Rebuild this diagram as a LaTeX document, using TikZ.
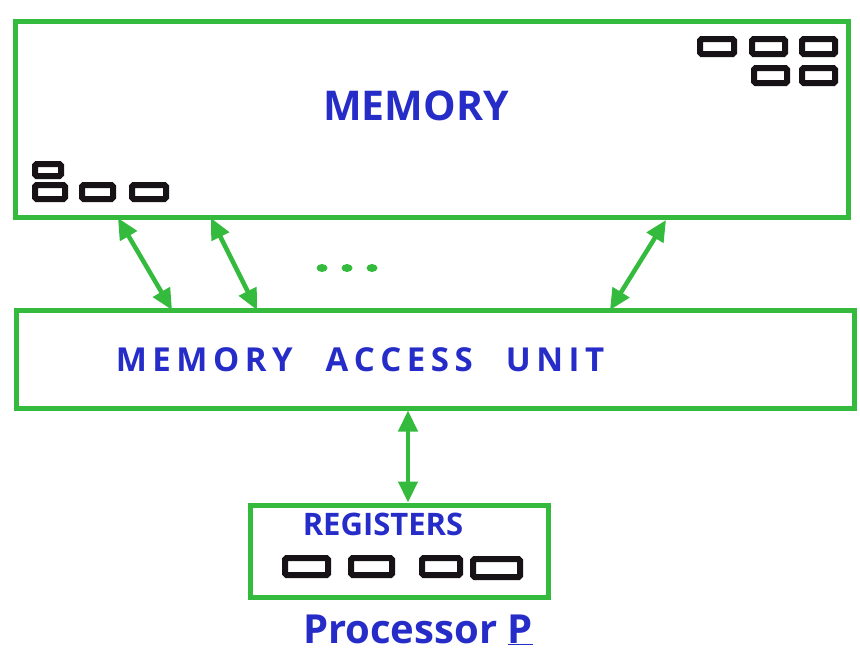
\documentclass[tikz,border=0pt]{standalone}
\usepackage{fontspec}
\setmainfont{Open Sans}
\usetikzlibrary{arrows.meta,calc,shapes.geometric}
\definecolor{pen}{RGB}{52,186,60}
\definecolor{ink}{RGB}{38,44,200}
\definecolor{cell}{RGB}{22,18,22}
\tikzset{
  unitbox/.style={draw=pen, line width=5pt, rectangle, inner sep=0pt},
  lettering/.style={text=ink, font=\bfseries},
  cellbox/.style={draw=cell, line width=6pt, rounded corners=1.5pt},
  link/.style={draw=pen, line width=4.5pt,
    {Triangle[length=21pt,width=19pt]}-{Triangle[length=21pt,width=19pt]}},
  dot/.style={fill=pen, ellipse, inner sep=0pt, minimum width=11pt, minimum height=8pt}
}
\begin{document}
\begin{tikzpicture}[x=1pt,y=-1pt]
\useasboundingbox (0,0) rectangle (860,656);
\fill[white] (0,0) rectangle (860,656);

% main memory
\node[unitbox, minimum width=833pt, minimum height=196pt] (mem) at (431.5,119) {};
\node[lettering, font=\fontsize{41}{44}\selectfont\bfseries] (memtxt) at (416,106) {MEMORY};

% storage cells in the memory
\draw[cellbox] (700,39) rectangle (734,54);
\draw[cellbox] (752,39) rectangle (785,54);
\draw[cellbox] (802,39) rectangle (835,54);
\draw[cellbox] (754,68) rectangle (787,83);
\draw[cellbox] (802,68) rectangle (835,83);
\draw[cellbox] (35,164) rectangle (61,176);
\draw[cellbox] (35,185) rectangle (65,199);
\draw[cellbox] (82,185) rectangle (113,199);
\draw[cellbox] (132,185) rectangle (166,199);

% memory access unit
\node[unitbox, minimum width=838pt, minimum height=98pt] (mau) at (435,359) {};
\node[lettering, font=\fontsize{33}{36}\selectfont\bfseries] (mautxt) at (360,360)
  {M\,E\,M\,O\,R\,Y\quad A\,C\,C\,E\,S\,S\quad U\,N\,I\,T};

% links between memory and access unit
\coordinate (m1) at (118,218);
\coordinate (a1) at (172,310);
\coordinate (m2) at (211,218);
\coordinate (a2) at (257,310);
\coordinate (m3) at (666,220);
\coordinate (a3) at (610,310);
\draw[link] (m1) -- (a1);
\draw[link] (m2) -- (a2);
\draw[link] (m3) -- (a3);
\node[dot] (d1) at (322,268) {};
\node[dot] (d2) at (347,268) {};
\node[dot] (d3) at (372,268) {};

% processor registers
\node[unitbox, minimum width=298pt, minimum height=92pt] (regs) at (399,551) {};
\node[lettering, font=\fontsize{31}{34}\selectfont\bfseries] (regtxt) at (383,524) {REGISTERS};
\draw[cellbox] (285,558) rectangle (328,575);
\draw[cellbox] (351,558) rectangle (392,575);
\draw[cellbox] (422,558) rectangle (460,575);
\draw[cellbox] (473,559) rectangle (520,577);

% link between access unit and registers
\coordinate (bus) at (408,450);
\draw[link] (mau.south -| bus) -- (regs.north -| bus);

% caption
\node[lettering, font=\fontsize{40}{44}\selectfont\bfseries] (proc) at (418,630)
  {Processor \underline{P}};
\end{tikzpicture}
\end{document}
